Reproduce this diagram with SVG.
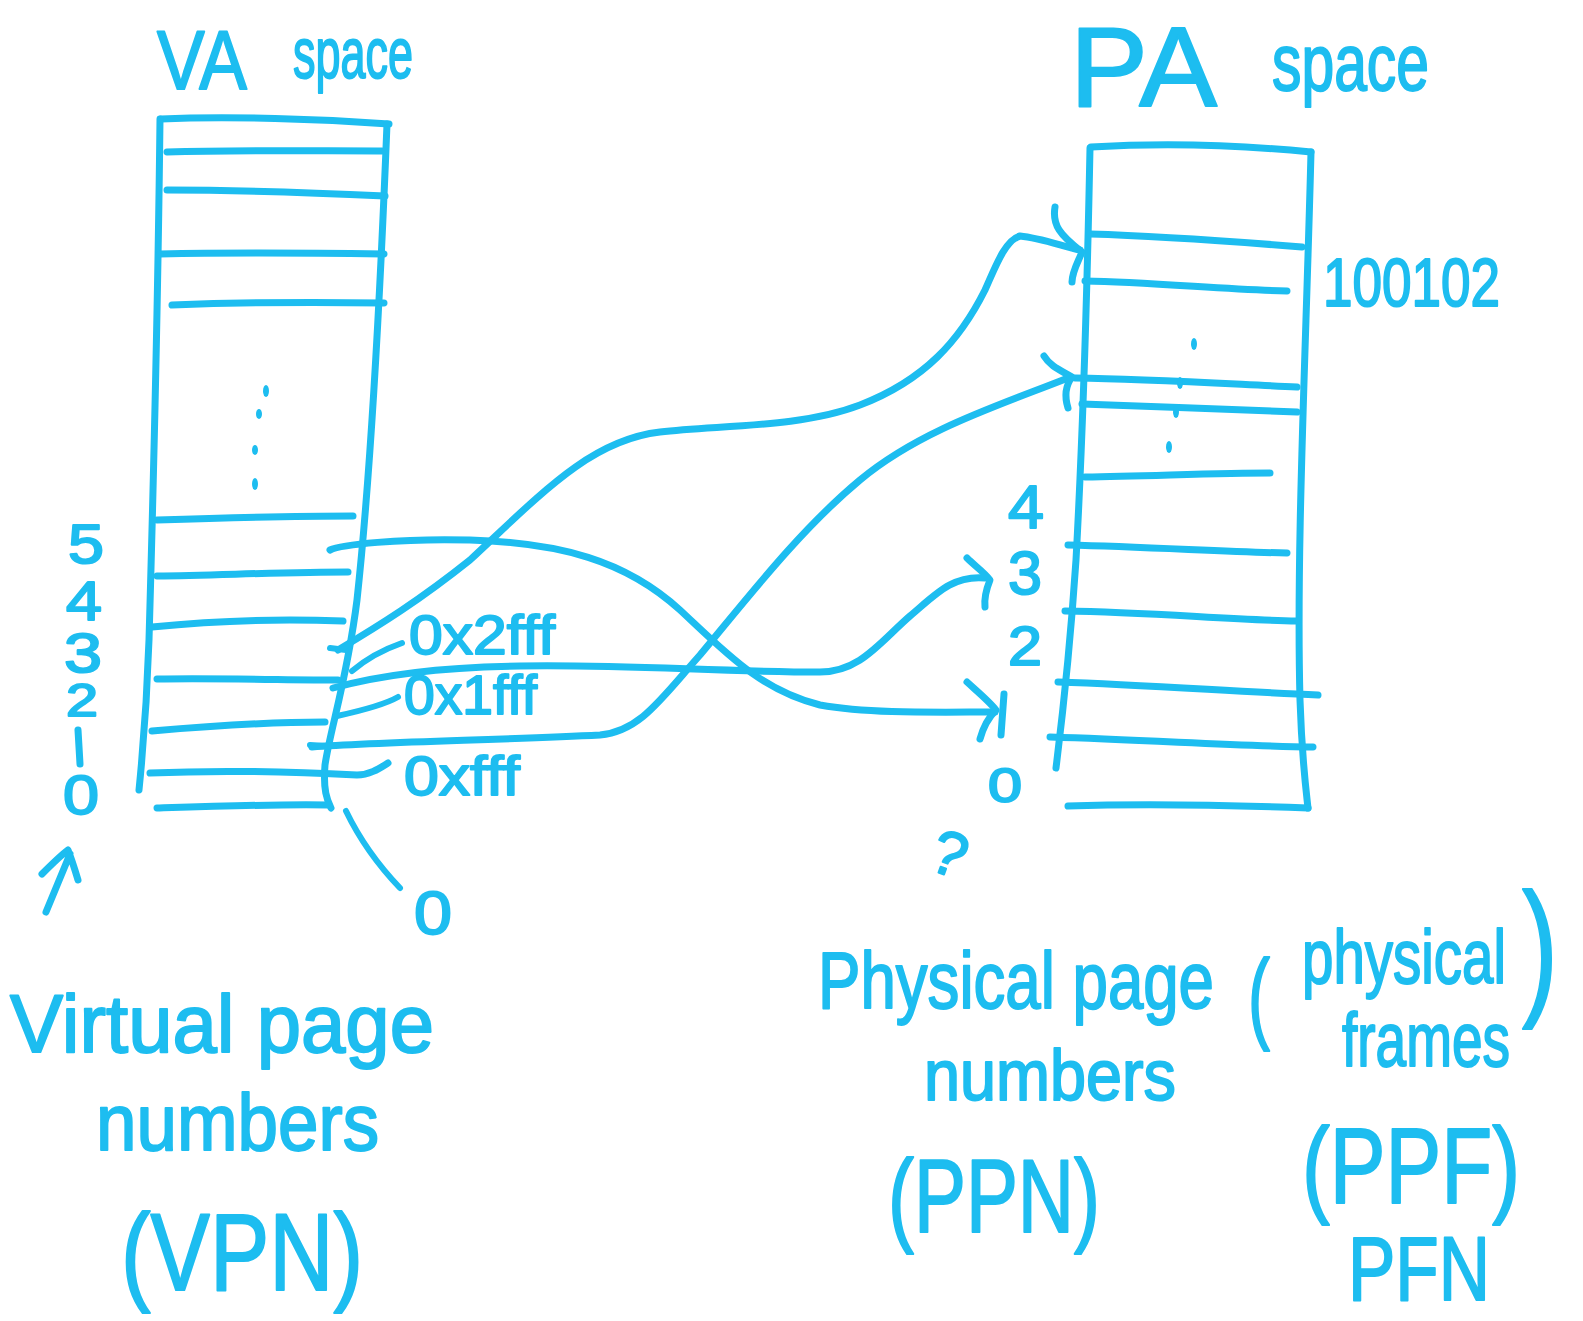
<svg xmlns="http://www.w3.org/2000/svg" width="1583" height="1321" viewBox="0 0 1583 1321">
  <style>
    .ink { fill: none; stroke: #1dbdf0; stroke-width: 7; stroke-linecap: round; stroke-linejoin: round; }
    .thin { stroke-width: 6; }
    .hand { font-family: "Liberation Sans", Arial, sans-serif; fill: #1dbdf0; stroke: #1dbdf0; stroke-width: 2; stroke-linejoin: round; }
    .dot { fill: #1dbdf0; }
  </style>
  <rect width="1583" height="1321" fill="#ffffff"/>

  <!-- Virtual address space column -->
  <g id="va-space">
    <text class="hand" x="157" y="89" font-size="84" textLength="90" lengthAdjust="spacingAndGlyphs">VA</text>
    <text class="hand" x="293" y="78" font-size="72" textLength="120" lengthAdjust="spacingAndGlyphs">space</text>
    <path class="ink" d="M161,119 C230,116 320,119 389,124"/>
    <path class="ink" d="M160,119 C158,300 153,500 149,640 C147,700 143,750 139,790"/>
    <path class="ink" d="M387,124 C380,300 370,480 357,600 C347,680 330,730 325,765 C323,790 327,800 331,808"/>
    <path class="ink" d="M167,152 C240,150 310,151 382,151"/>
    <path class="ink" d="M167,190 C240,190 320,193 385,196"/>
    <path class="ink" d="M160,254 C240,252 320,253 384,254"/>
    <path class="ink" d="M172,305 C250,302 320,302 384,303"/>
    <path class="ink" d="M157,520 C220,518 290,516 353,516"/>
    <path class="ink" d="M157,576 C220,575 290,572 348,572"/>
    <path class="ink" d="M152,627 C220,620 290,619 343,621"/>
    <path class="ink" d="M157,679 C220,678 290,680 338,680"/>
    <path class="ink" d="M152,731 C210,726 270,722 325,722"/>
    <path class="ink" d="M150,773 C220,770 300,772 357,775 C370,775 380,768 388,763"/>
    <path class="ink" d="M157,808 C220,806 280,804 328,805"/>
    <!-- ellipsis between the upper and lower pages -->
    <ellipse class="dot" cx="266" cy="391" rx="3" ry="6"/>
    <ellipse class="dot" cx="259" cy="414" rx="3" ry="5"/>
    <ellipse class="dot" cx="255" cy="450" rx="3" ry="5"/>
    <ellipse class="dot" cx="255" cy="484" rx="3" ry="6"/>
    <!-- page numbers 5..0 -->
    <text class="hand" x="68" y="563" font-size="56" textLength="36" lengthAdjust="spacingAndGlyphs">5</text>
    <text class="hand" x="66" y="620" font-size="56" textLength="36" lengthAdjust="spacingAndGlyphs">4</text>
    <text class="hand" x="64" y="672" font-size="56" textLength="38" lengthAdjust="spacingAndGlyphs">3</text>
    <text class="hand" x="66" y="716" font-size="46" textLength="32" lengthAdjust="spacingAndGlyphs">2</text>
    <path class="ink" d="M78,730 L80,764"/>
    <text class="hand" x="63" y="814" font-size="56" textLength="36" lengthAdjust="spacingAndGlyphs">0</text>
    <!-- upward arrow -->
    <path class="ink" d="M46,912 L70,854 M42,874 C52,864 60,856 68,850 C72,860 75,870 78,880"/>
    <!-- address labels -->
    <path class="ink thin" d="M352,671 C365,660 382,650 402,643"/>
    <path class="ink thin" d="M337,716 C360,711 384,705 398,697"/>
    <path class="ink thin" d="M330,648 L346,650"/>
    <path class="ink thin" d="M310,745 L326,746"/>
    <text class="hand" x="409" y="654" font-size="56" textLength="146" lengthAdjust="spacingAndGlyphs">0x2fff</text>
    <text class="hand" x="404" y="714" font-size="56" textLength="133" lengthAdjust="spacingAndGlyphs">0x1fff</text>
    <text class="hand" x="404" y="795" font-size="56" textLength="116" lengthAdjust="spacingAndGlyphs">0xfff</text>
    <!-- address 0 -->
    <path class="ink thin" d="M346,811 C360,840 378,865 400,888"/>
    <text class="hand" x="414" y="934" font-size="62" textLength="38" lengthAdjust="spacingAndGlyphs">0</text>
  </g>

  <!-- Physical address space column -->
  <g id="pa-space">
    <text class="hand" x="1070" y="106" font-size="114" textLength="147" lengthAdjust="spacingAndGlyphs">PA</text>
    <text class="hand" x="1272" y="90" font-size="80" textLength="157" lengthAdjust="spacingAndGlyphs">space</text>
    <path class="ink" d="M1091,147 C1160,143 1240,145 1311,152"/>
    <path class="ink" d="M1090,148 C1087,300 1082,450 1076,560 C1070,650 1062,720 1056,768"/>
    <path class="ink" d="M1311,152 C1306,350 1296,550 1300,700 C1302,760 1306,790 1308,808"/>
    <path class="ink" d="M1068,806 C1150,803 1230,805 1308,808"/>
    <path class="ink" d="M1090,234 C1160,236 1240,242 1302,247"/>
    <path class="ink" d="M1085,281 C1150,282 1230,290 1287,291"/>
    <path class="ink" d="M1075,378 C1150,379 1230,384 1297,387"/>
    <path class="ink" d="M1082,404 C1150,406 1230,410 1297,412"/>
    <path class="ink" d="M1085,477 C1150,476 1220,473 1270,473"/>
    <path class="ink" d="M1068,545 C1150,547 1230,552 1287,553"/>
    <path class="ink" d="M1065,611 C1150,612 1230,620 1297,621"/>
    <path class="ink" d="M1058,682 C1150,685 1240,692 1318,695"/>
    <path class="ink" d="M1050,737 C1150,740 1240,746 1313,747"/>
    <!-- ellipsis -->
    <ellipse class="dot" cx="1194" cy="344" rx="3" ry="6"/>
    <ellipse class="dot" cx="1180" cy="383" rx="3" ry="6"/>
    <ellipse class="dot" cx="1176" cy="412" rx="3" ry="6"/>
    <ellipse class="dot" cx="1169" cy="447" rx="3" ry="6"/>
    <text class="hand" x="1323" y="306" font-size="68" textLength="177" lengthAdjust="spacingAndGlyphs">100102</text>
    <!-- frame numbers -->
    <text class="hand" x="1008" y="528" font-size="62" textLength="36" lengthAdjust="spacingAndGlyphs">4</text>
    <text class="hand" x="1008" y="594" font-size="62" textLength="34" lengthAdjust="spacingAndGlyphs">3</text>
    <text class="hand" x="1008" y="665" font-size="56" textLength="34" lengthAdjust="spacingAndGlyphs">2</text>
    <path class="ink" d="M1004,694 L1001,735"/>
    <text class="hand" x="988" y="802" font-size="48" textLength="34" lengthAdjust="spacingAndGlyphs">0</text>
    <text class="hand" x="932" y="875" font-size="62" textLength="34" lengthAdjust="spacingAndGlyphs" transform="rotate(20 949 855)">?</text>
  </g>

  <!-- Mappings from virtual pages to physical frames -->
  <g id="connectors">
    <path class="ink" d="M330,550 C340,545 400,538 470,540 C560,543 625,560 680,610 C725,652 760,690 820,705 C870,714 940,712 995,712"/>
    <path class="ink" d="M967,682 C978,692 990,702 996,710 C988,718 983,728 980,739"/>
    <path class="ink" d="M338,650 C380,625 420,600 470,560 C540,495 590,440 660,432 C720,425 800,428 860,405 C925,380 960,340 985,290 C995,268 1005,240 1020,236 C1040,238 1062,246 1080,250"/>
    <path class="ink" d="M1055,207 C1052,225 1060,235 1082,252 C1078,262 1072,272 1072,282"/>
    <path class="ink" d="M312,747 C380,742 500,740 600,735 C640,731 660,700 700,655 C750,595 800,530 860,480 C920,430 1000,405 1068,378"/>
    <path class="ink" d="M1044,356 C1050,366 1060,370 1072,377 C1066,385 1064,395 1068,408"/>
    <path class="ink" d="M333,688 C380,675 440,667 520,666 C620,664 720,672 820,672 C860,672 880,642 910,616 C935,595 952,575 985,578"/>
    <path class="ink" d="M967,558 C975,566 984,572 990,580 C986,590 984,598 985,607"/>
  </g>

  <!-- Captions -->
  <g id="captions">
    <text class="hand" x="10" y="1052" font-size="82" textLength="424" lengthAdjust="spacingAndGlyphs">Virtual page</text>
    <text class="hand" x="96" y="1150" font-size="80" textLength="283" lengthAdjust="spacingAndGlyphs">numbers</text>
    <text class="hand" x="121" y="1290" font-size="110" textLength="242" lengthAdjust="spacingAndGlyphs">(VPN)</text>
    <text class="hand" x="818" y="1008" font-size="80" textLength="396" lengthAdjust="spacingAndGlyphs">Physical page</text>
    <text class="hand" x="924" y="1100" font-size="72" textLength="252" lengthAdjust="spacingAndGlyphs">numbers</text>
    <text class="hand" x="888" y="1232" font-size="104" textLength="212" lengthAdjust="spacingAndGlyphs">(PPN)</text>
    <text class="hand" x="1248" y="1030" font-size="100" textLength="22" lengthAdjust="spacingAndGlyphs">(</text>
    <text class="hand" x="1302" y="983" font-size="76" textLength="204" lengthAdjust="spacingAndGlyphs">physical</text>
    <text class="hand" x="1522" y="998" font-size="150" textLength="36" lengthAdjust="spacingAndGlyphs">)</text>
    <text class="hand" x="1342" y="1066" font-size="76" textLength="168" lengthAdjust="spacingAndGlyphs">frames</text>
    <text class="hand" x="1302" y="1203" font-size="108" textLength="218" lengthAdjust="spacingAndGlyphs">(PPF)</text>
    <text class="hand" x="1348" y="1300" font-size="90" textLength="142" lengthAdjust="spacingAndGlyphs">PFN</text>
  </g>
</svg>
